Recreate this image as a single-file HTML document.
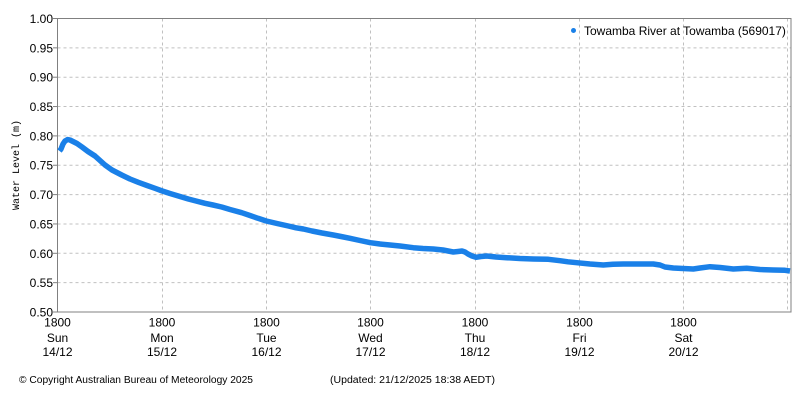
<!DOCTYPE html>
<html><head><meta charset="utf-8"><style>
html,body{margin:0;padding:0;background:#fff;}
svg{display:block;}
text{font-family:"Liberation Sans",sans-serif;fill:#000;}
</style></head><body>
<svg width="800" height="400" viewBox="0 0 800 400" xmlns="http://www.w3.org/2000/svg">
<rect width="800" height="400" fill="#fff"/>
<g stroke="#c0c0c0" stroke-width="1" stroke-dasharray="3,3" fill="none">
<line x1="57.5" x2="791" y1="47.85" y2="47.85"/>
<line x1="57.5" x2="791" y1="77.2" y2="77.2"/>
<line x1="57.5" x2="791" y1="106.55" y2="106.55"/>
<line x1="57.5" x2="791" y1="135.9" y2="135.9"/>
<line x1="57.5" x2="791" y1="165.25" y2="165.25"/>
<line x1="57.5" x2="791" y1="194.6" y2="194.6"/>
<line x1="57.5" x2="791" y1="223.95" y2="223.95"/>
<line x1="57.5" x2="791" y1="253.3" y2="253.3"/>
<line x1="57.5" x2="791" y1="282.65" y2="282.65"/>
<line y1="18.5" y2="312" x1="162.5" x2="162.5"/>
<line y1="18.5" y2="312" x1="266.5" x2="266.5"/>
<line y1="18.5" y2="312" x1="370.5" x2="370.5"/>
<line y1="18.5" y2="312" x1="475.5" x2="475.5"/>
<line y1="18.5" y2="312" x1="579.5" x2="579.5"/>
<line y1="18.5" y2="312" x1="683.5" x2="683.5"/>
<line y1="18.5" y2="312" x1="787.5" x2="787.5"/>
</g>
<rect x="57.5" y="18.5" width="733.5" height="293.5" fill="none" stroke="#808080" stroke-width="1"/>
<g stroke="#808080" stroke-width="1">
<line x1="53" x2="57.5" y1="18.5" y2="18.5"/>
<line x1="53" x2="57.5" y1="47.85" y2="47.85"/>
<line x1="53" x2="57.5" y1="77.2" y2="77.2"/>
<line x1="53" x2="57.5" y1="106.55" y2="106.55"/>
<line x1="53" x2="57.5" y1="135.9" y2="135.9"/>
<line x1="53" x2="57.5" y1="165.25" y2="165.25"/>
<line x1="53" x2="57.5" y1="194.6" y2="194.6"/>
<line x1="53" x2="57.5" y1="223.95" y2="223.95"/>
<line x1="53" x2="57.5" y1="253.3" y2="253.3"/>
<line x1="53" x2="57.5" y1="282.65" y2="282.65"/>
<line x1="53" x2="57.5" y1="312" y2="312"/>
</g>
<g stroke="#808080" stroke-width="1" id="xt"></g>
<g font-size="12" text-anchor="end">
<text x="53" y="23">1.00</text>
<text x="53" y="52.3">0.95</text>
<text x="53" y="81.7">0.90</text>
<text x="53" y="111">0.85</text>
<text x="53" y="140.4">0.80</text>
<text x="53" y="169.7">0.75</text>
<text x="53" y="199.1">0.70</text>
<text x="53" y="228.4">0.65</text>
<text x="53" y="257.8">0.60</text>
<text x="53" y="287.1">0.55</text>
<text x="53" y="316.5">0.50</text>
</g>
<g font-size="12" text-anchor="middle">
<text x="57.5" y="326.5">1800</text><text x="57.5" y="342">Sun</text><text x="57.5" y="356">14/12</text>
<text x="162" y="326.5">1800</text><text x="162" y="342">Mon</text><text x="162" y="356">15/12</text>
<text x="266.5" y="326.5">1800</text><text x="266.5" y="342">Tue</text><text x="266.5" y="356">16/12</text>
<text x="370.5" y="326.5">1800</text><text x="370.5" y="342">Wed</text><text x="370.5" y="356">17/12</text>
<text x="475" y="326.5">1800</text><text x="475" y="342">Thu</text><text x="475" y="356">18/12</text>
<text x="579.5" y="326.5">1800</text><text x="579.5" y="342">Fri</text><text x="579.5" y="356">19/12</text>
<text x="683.5" y="326.5">1800</text><text x="683.5" y="342">Sat</text><text x="683.5" y="356">20/12</text>
</g>
<text x="0" y="0" font-size="10" text-anchor="middle" style="font-family:'Liberation Mono',monospace" transform="translate(19,165) rotate(-90)">Water Level (m)</text>
<text x="19" y="383" font-size="10" textLength="234" lengthAdjust="spacingAndGlyphs">© Copyright Australian Bureau of Meteorology 2025</text>
<text x="330" y="383" font-size="10" textLength="165" lengthAdjust="spacingAndGlyphs">(Updated: 21/12/2025 18:38 AEDT)</text>
<circle cx="573.5" cy="30.5" r="2.5" fill="#1a80e8"/>
<text x="584" y="35" font-size="12">Towamba River at Towamba (569017)</text>
<polyline fill="none" stroke="#1a80e8" stroke-width="5.5" stroke-linejoin="round" stroke-linecap="butt" points="
59.5,151 61,149 63,144 65,141 67.7,139.5 70,140 73,141.5 77,143.5 82,147 88,151.5 95,156 100,160.5 105,165 112,170 121.7,175 130,179 138.3,182.3 147,185.5 155,188.3 162.3,191 170,193.5 180,196.5 188.3,199 196,201 205,203.3 213,205 221.7,207 230,209.5 241.7,212.7 250,215.5 258,218.3 266.3,221 277,223.5 288.3,226 296,227.8 303.3,229 312,231 322,233 333.3,235 341,236.5 350,238.3 360,240.5 370.3,242.7 380,244 390,245 400,246 413.3,247.7 423,248.5 433.3,249 443,250 453.3,252 458,251.5 462,251 465,252 468,254 472,256 476,257.3 481,256.5 486.7,256 496,257 506.7,257.7 520,258.5 533.3,259 548.3,259.3 560,260.7 568,261.8 576.7,262.7 590,264 603.3,265 613,264.3 623.3,264 640,264 653.3,264 660,265 665,267 673.3,268 683,268.5 693.3,269 700,268 710,266.7 720,267.5 733.3,269 746.7,268.3 760,269.5 773.3,270 785,270.3 790,271"/>
<script>
var g=document.getElementById('xt'),s='';
for(var i=0;i<=28;i++){var x=57.5+i*26.075;x=Math.round(x-0.5)+0.5;s+='<line x1="'+x+'" x2="'+x+'" y1="312" y2="316"/>';}
g.innerHTML=s;
</script>
</svg>
</body></html>
